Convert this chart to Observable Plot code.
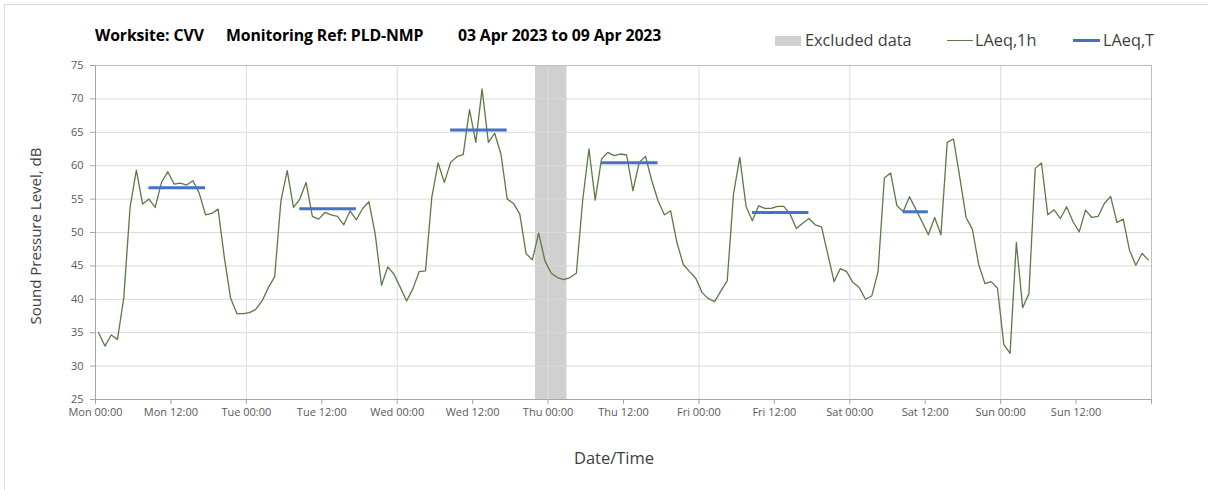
<!DOCTYPE html>
<html><head><meta charset="utf-8">
<script src="https://cdn.jsdelivr.net/npm/d3@7"></script>
<script src="https://cdn.jsdelivr.net/npm/@observablehq/plot@0.6"></script>
<style>
body{margin:0;background:#fff;font-family:"Open Sans",sans-serif;overflow:hidden;}
#wrap{position:relative;width:1208px;height:490px;overflow:hidden;background:#fff;}
#border{position:absolute;left:4px;top:4px;width:1240px;height:540px;border:1px solid #d9d9d9;}
.t{position:absolute;top:25px;font-weight:700;font-size:15.8px;color:#000;white-space:nowrap;line-height:20px;letter-spacing:-0.1px;}
.lg{position:absolute;top:30px;font-size:16.3px;color:#404040;white-space:nowrap;line-height:20px;}
.sw{position:absolute;}
#chart{position:absolute;left:0;top:55px;}
#ylab{position:absolute;left:35px;top:236px;transform:translate(-50%,-50%) rotate(-90deg);font-size:15px;color:#404040;white-space:nowrap;}
#xlab{position:absolute;left:614px;top:457px;transform:translate(-50%,-50%);font-size:16.5px;color:#404040;white-space:nowrap;}
</style></head>
<body>
<div id="wrap">
<div id="border"></div>
<div class="t" style="left:95px">Worksite: CVV</div>
<div class="t" style="left:226px">Monitoring Ref: PLD-NMP</div>
<div class="t" style="left:458px">03 Apr 2023 to 09 Apr 2023</div>
<div class="sw" style="left:775px;top:36px;width:26px;height:10px;background:#d0d0d0"></div>
<div class="lg" style="left:805px">Excluded data</div>
<div class="sw" style="left:947px;top:40px;width:26px;height:1.3px;background:#5b7a45"></div>
<div class="lg" style="left:975px">LAeq,1h</div>
<div class="sw" style="left:1073px;top:39px;width:27px;height:3px;background:#4472c4"></div>
<div class="lg" style="left:1103px">LAeq,T</div>
<div id="chart"></div>
<div id="ylab">Sound Pressure Level, dB</div>
<div id="xlab">Date/Time</div>
</div>
<script>
// Hourly LAeq,1h values (dB), Mon 00:00 .. Sun 23:00
const laeq1h = [
35.0,33.0,34.65,34.0,40.25,53.75,59.35,54.25,55.0,53.75,57.5,59.1,57.25,57.4,57.1,57.75,55.9,52.65,52.85,53.5,46.25,40.15,37.85,37.85,
38.0,38.5,39.75,41.75,43.35,54.75,59.25,53.75,55.0,57.5,52.4,52.0,53.0,52.65,52.4,51.15,53.25,51.9,53.6,54.6,49.75,42.1,44.85,43.75,
41.75,39.75,41.6,44.15,44.25,55.25,60.4,57.5,60.5,61.35,61.65,68.4,63.5,71.5,63.5,64.85,61.75,55.0,54.35,52.75,46.85,45.9,49.9,45.75,
43.9,43.25,42.95,43.25,43.9,54.75,62.5,54.85,61.0,62.0,61.5,61.75,61.6,56.25,60.5,61.4,57.75,54.75,52.65,53.25,48.5,45.25,44.15,43.15,
41.0,40.1,39.65,41.25,42.75,55.75,61.25,53.9,51.75,54.0,53.6,53.6,53.9,53.9,52.75,50.6,51.4,52.1,51.15,50.85,46.75,42.65,44.6,44.15,
42.5,41.75,40.0,40.5,44.15,58.15,58.9,54.0,53.15,55.35,53.5,51.6,49.65,52.25,49.65,63.5,64.0,58.25,52.25,50.5,45.25,42.35,42.65,41.65,
33.25,31.9,48.5,38.75,40.85,59.6,60.4,52.65,53.4,52.1,53.85,51.65,50.1,53.35,52.25,52.4,54.35,55.4,51.5,52.0,47.35,45.1,46.85,45.9
];
// LAeq,T periods: first and last hour index, level
const ltStart = [8, 32, 56, 80, 104, 128];
const ltEnd   = [17, 41, 65, 89, 113, 132];
const ltValue = [56.7, 53.55, 65.35, 60.45, 53.0, 53.1];
// Excluded data period (hours from Mon 00:00)
const excludedStart = [70];
const excludedEnd = [75];
// Axis ticks
const tickHours = [0,12,24,36,48,60,72,84,96,108,120,132,144,156,168];
const tickLabels = ["Mon 00:00","Mon 12:00","Tue 00:00","Tue 12:00","Wed 00:00","Wed 12:00","Thu 00:00","Thu 12:00","Fri 00:00","Fri 12:00","Sat 00:00","Sat 12:00","Sun 00:00","Sun 12:00",""];
const dayHours = [24,48,72,96,120,144];
const yTicks = [25,30,35,40,45,50,55,60,65,70,75];

const hourly = laeq1h.map((v, i) => ({h: i + 0.5, v}));
const lt = ltValue.map((v, i) => ({x1: ltStart[i] + 0.5, x2: ltEnd[i] + 0.5, v}));
const excl = excludedStart.map((s, i) => ({x1: s, x2: excludedEnd[i]}));
const labelOf = new Map(tickHours.map((h, i) => [h, tickLabels[i]]));

const chart = Plot.plot({
  width: 1208, height: 435,
  marginLeft: 95, marginRight: 57, marginTop: 10, marginBottom: 91,
  style: {fontFamily: "'Open Sans', sans-serif", background: "transparent"},
  x: {domain: [0, 168]},
  y: {domain: [25, 75]},
  marks: [
    Plot.rect(excl, {x1: "x1", x2: "x2", y1: 25, y2: 75, fill: "#d0d0d0"}),
    Plot.gridY(yTicks.slice(1, -1), {stroke: "#d9d9d9", strokeOpacity: 1, strokeWidth: 1}),
    Plot.gridX(dayHours, {stroke: "#dcdcdc", strokeOpacity: 1, strokeWidth: 1}),
    Plot.frame({stroke: "#bfbfbf"}),
    Plot.ruleX([0], {stroke: "#a6a6a6"}),
    Plot.ruleY([25], {stroke: "#a6a6a6"}),
    Plot.axisY(yTicks, {tickSize: 5, tickPadding: 7, fontSize: 11, stroke: "#a6a6a6", fill: "#595959", label: null}),
    Plot.axisX(tickHours, {tickSize: 5, tickPadding: 4, fontSize: 11, stroke: "#a6a6a6", fill: "#595959", label: null, tickFormat: d => labelOf.get(d)}),
    Plot.line(hourly, {x: "h", y: "v", stroke: "#5b7a45", strokeWidth: 1.3}),
    Plot.ruleY(lt, {x1: "x1", x2: "x2", y: "v", stroke: "#4472c4", strokeWidth: 3})
  ]
});
document.getElementById("chart").appendChild(chart);
</script>
</body></html>
